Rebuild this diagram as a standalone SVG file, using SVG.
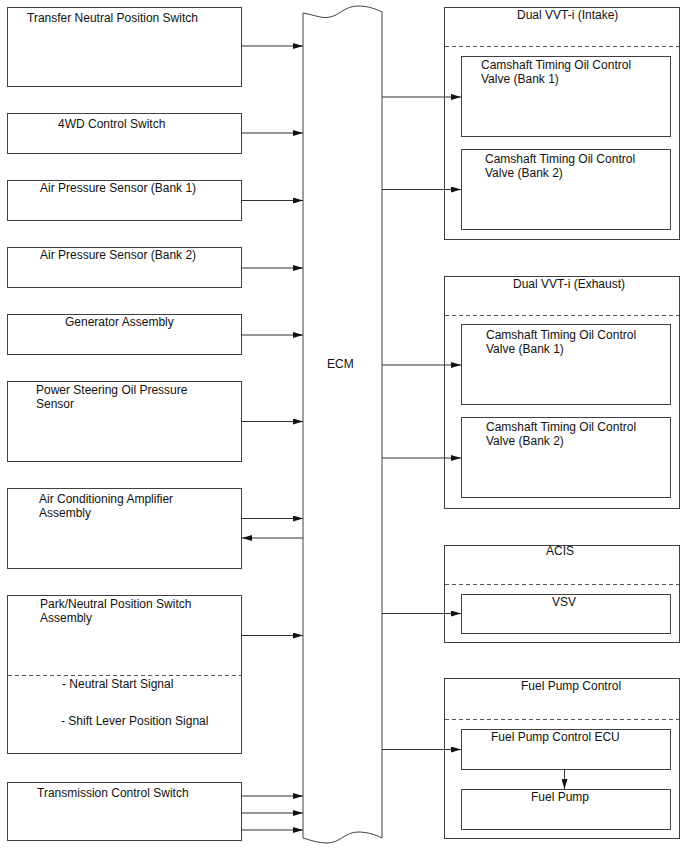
<svg xmlns="http://www.w3.org/2000/svg" width="688" height="852" viewBox="0 0 688 852">
<style>
.b{fill:#fff;stroke:#404040;stroke-width:1}
.d{stroke:#555;stroke-width:1;stroke-dasharray:4,3;fill:none}
.c{stroke:#333;stroke-width:1;fill:none;marker-end:url(#a)}
text{font-family:"Liberation Sans",Arial,sans-serif;font-size:12px;fill:#111}
</style>
<defs>
<marker id="a" viewBox="0 0 10 6" refX="10" refY="3" markerWidth="10" markerHeight="6" markerUnits="userSpaceOnUse" orient="auto"><path d="M0,0 L10,3 L0,6 Z" fill="#111"/></marker>
</defs>
<rect width="688" height="852" fill="#fff"/>
<g id="ecm">
<path class="b" d="M303,13 C315,15 322,19 330,17 C340,15 345,6 358,6 C368,6 376,9 382,12 L382,838 C376,835 368,832 358,832 C345,832 340,843 327,843 C318,843 310,840 303,838 Z"/>
<text x="327" y="368">ECM</text>
</g>
<g id="tnps"><rect class="b" x="7.5" y="7.5" width="234" height="79"/><text x="27" y="22">Transfer Neutral Position Switch</text></g>
<g id="4wd"><rect class="b" x="7.5" y="113.5" width="234" height="40"/><text x="58" y="128">4WD Control Switch</text></g>
<g id="aps1"><rect class="b" x="7.5" y="180.5" width="234" height="40"/><text x="40" y="192">Air Pressure Sensor (Bank 1)</text></g>
<g id="aps2"><rect class="b" x="7.5" y="247.5" width="234" height="40"/><text x="40" y="259">Air Pressure Sensor (Bank 2)</text></g>
<g id="gen"><rect class="b" x="7.5" y="314.5" width="234" height="40"/><text x="65" y="326">Generator Assembly</text></g>
<g id="ps"><rect class="b" x="7.5" y="381.5" width="234" height="80"/><text x="36" y="394">Power Steering Oil Pressure</text><text x="36" y="408">Sensor</text></g>
<g id="ac"><rect class="b" x="7.5" y="488.5" width="234" height="80"/><text x="39" y="503">Air Conditioning Amplifier</text><text x="39" y="517">Assembly</text></g>
<g id="pnp"><rect class="b" x="7.5" y="595.5" width="234" height="158"/><line class="d" x1="8" y1="675.5" x2="241" y2="675.5"/><text x="40" y="608">Park/Neutral Position Switch</text><text x="40" y="622">Assembly</text><text x="62" y="688">- Neutral Start Signal</text><text x="61" y="725">- Shift Lever Position Signal</text></g>
<g id="tcs"><rect class="b" x="7.5" y="782.5" width="234" height="58"/><text x="37" y="797">Transmission Control Switch</text></g>
<g id="vvti-in"><rect class="b" x="444.5" y="7.5" width="235" height="232"/><line class="d" x1="445" y1="46.5" x2="679" y2="46.5"/><text x="517" y="19">Dual VVT-i (Intake)</text>
<rect class="b" x="461.5" y="56.5" width="209" height="80"/><text x="481" y="69">Camshaft Timing Oil Control</text><text x="481" y="83">Valve (Bank 1)</text>
<rect class="b" x="461.5" y="149.5" width="209" height="80"/><text x="485" y="163">Camshaft Timing Oil Control</text><text x="485" y="177">Valve (Bank 2)</text></g>
<g id="vvti-ex"><rect class="b" x="444.5" y="276.5" width="235" height="232"/><line class="d" x1="445" y1="315.5" x2="679" y2="315.5"/><text x="513" y="288">Dual VVT-i (Exhaust)</text>
<rect class="b" x="461.5" y="324.5" width="209" height="80"/><text x="486" y="339">Camshaft Timing Oil Control</text><text x="486" y="353">Valve (Bank 1)</text>
<rect class="b" x="461.5" y="417.5" width="209" height="80"/><text x="486" y="431">Camshaft Timing Oil Control</text><text x="486" y="445">Valve (Bank 2)</text></g>
<g id="acis"><rect class="b" x="444.5" y="545.5" width="235" height="97"/><line class="d" x1="445" y1="584.5" x2="679" y2="584.5"/><text x="546" y="555">ACIS</text>
<rect class="b" x="461.5" y="594.5" width="209" height="39"/><text x="552" y="606">VSV</text></g>
<g id="fpc"><rect class="b" x="444.5" y="678.5" width="235" height="160"/><line class="d" x1="445" y1="719.5" x2="679" y2="719.5"/><text x="521" y="690">Fuel Pump Control</text>
<rect class="b" x="461.5" y="729.5" width="209" height="40"/><text x="491" y="741">Fuel Pump Control ECU</text>
<rect class="b" x="461.5" y="789.5" width="209" height="40"/><text x="531" y="801">Fuel Pump</text></g>
<g id="connectors">
<line class="c" x1="241" y1="46" x2="303" y2="46"/>
<line class="c" x1="241" y1="133" x2="303" y2="133"/>
<line class="c" x1="241" y1="200.5" x2="303" y2="200.5"/>
<line class="c" x1="241" y1="268" x2="303" y2="268"/>
<line class="c" x1="241" y1="335" x2="303" y2="335"/>
<line class="c" x1="241" y1="421.5" x2="303" y2="421.5"/>
<line class="c" x1="241" y1="518.5" x2="303" y2="518.5"/>
<line class="c" x1="303" y1="538" x2="242" y2="538"/>
<line class="c" x1="241" y1="635.5" x2="303" y2="635.5"/>
<line class="c" x1="241" y1="796" x2="303" y2="796"/>
<line class="c" x1="241" y1="813" x2="303" y2="813"/>
<line class="c" x1="241" y1="830" x2="303" y2="830"/>
<line class="c" x1="382" y1="97" x2="461" y2="97"/>
<line class="c" x1="382" y1="189.5" x2="461" y2="189.5"/>
<line class="c" x1="382" y1="365" x2="461" y2="365"/>
<line class="c" x1="382" y1="458" x2="461" y2="458"/>
<line class="c" x1="382" y1="613.5" x2="461" y2="613.5"/>
<line class="c" x1="382" y1="749.5" x2="461" y2="749.5"/>
<line class="c" x1="564.5" y1="770" x2="564.5" y2="789"/>
</g>
</svg>
